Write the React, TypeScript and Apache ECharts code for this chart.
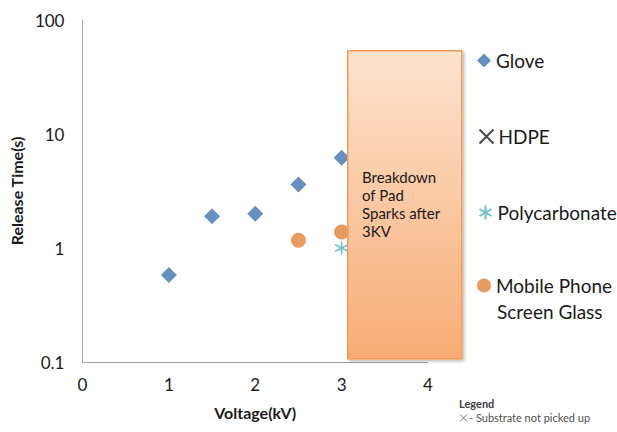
import React, { useEffect, useRef } from "react";
import * as echarts from "echarts";

// Release time (s) measured at each applied voltage (kV)
const gloveVoltage = [1, 1.5, 2, 2.5, 3];
const gloveTime = [0.58, 1.9, 2.0, 3.6, 6.2];
const hdpeVoltage: number[] = [];
const hdpeTime: number[] = [];
const polyVoltage = [3];
const polyTime = [1.0];
const phoneVoltage = [2.5, 3];
const phoneTime = [1.17, 1.38];

const xTicks = [0, 1, 2, 3, 4];
const yTicks = [0.1, 1, 10, 100];

const FONT = "Lato, 'Open Sans', sans-serif";

const pair = (xs: number[], ys: number[]) => xs.map((x, i) => [x, ys[i]]);

const CROSS = "path://M0,0L10,10M10,0L0,10";
const STAR = "path://M5,0L5,10M0.7,2.5L9.3,7.5M0.7,7.5L9.3,2.5";

export default function App() {
  const ref = useRef<HTMLDivElement>(null);

  useEffect(() => {
    if (!ref.current) return;
    const chart = echarts.init(ref.current, undefined, { renderer: "svg" });

    const legendBase = {
      orient: "vertical" as const,
      itemWidth: 14,
      itemHeight: 14,
      itemGap: 0,
      padding: 0,
      textStyle: { fontFamily: FONT, fontSize: 19, color: "#1a1a1a" },
      selectedMode: false,
    };

    chart.setOption({
      animation: false,
      backgroundColor: "#ffffff",
      textStyle: { fontFamily: FONT },
      grid: { left: 82, right: 189, top: 20, bottom: 70 },
      xAxis: {
        type: "value",
        min: xTicks[0],
        max: xTicks[xTicks.length - 1],
        interval: 1,
        name: "Voltage(kV)",
        nameLocation: "middle",
        nameGap: 42,
        nameTextStyle: { fontFamily: FONT, fontSize: 16, fontWeight: "bold", color: "#1a1a1a" },
        axisLine: { show: true, lineStyle: { color: "#a6a6a6", width: 1 } },
        axisTick: { show: false },
        splitLine: { show: false },
        axisLabel: { fontFamily: FONT, fontSize: 17, color: "#1a1a1a", margin: 14 },
      },
      yAxis: {
        type: "log",
        logBase: 10,
        min: yTicks[0],
        max: yTicks[yTicks.length - 1],
        name: "Release Time(s)",
        nameLocation: "middle",
        nameGap: 57,
        nameTextStyle: { fontFamily: FONT, fontSize: 16, fontWeight: "bold", color: "#1a1a1a" },
        axisLine: { show: true, lineStyle: { color: "#a6a6a6", width: 1 } },
        axisTick: { show: false },
        splitLine: { show: false },
        axisLabel: {
          fontFamily: FONT,
          fontSize: 17,
          color: "#1a1a1a",
          margin: 18,
          formatter: (v: number) => (v < 1 ? v.toFixed(1) : String(Math.round(v))),
        },
      },
      legend: [
        { ...legendBase, data: ["Glove"], left: 477, top: 51 },
        { ...legendBase, data: ["HDPE"], left: 477, top: 127 },
        { ...legendBase, data: ["Polycarbonate"], left: 477, top: 203 },
        { ...legendBase, data: ["Mobile Phone Screen Glass"], left: 477, top: 276, formatter: () => "Mobile Phone" },
      ],
      series: [
        {
          name: "Glove",
          type: "scatter",
          symbol: "diamond",
          symbolSize: 16,
          itemStyle: { color: "#4174b2" },
          data: pair(gloveVoltage, gloveTime),
        },
        {
          name: "HDPE",
          type: "scatter",
          symbol: CROSS,
          symbolSize: 12,
          itemStyle: { color: "none", borderColor: "#1a1a1a", borderWidth: 1.5 },
          data: pair(hdpeVoltage, hdpeTime),
        },
        {
          name: "Polycarbonate",
          type: "scatter",
          symbol: STAR,
          symbolSize: 13,
          itemStyle: { color: "none", borderColor: "#4bacc6", borderWidth: 1.5 },
          data: pair(polyVoltage, polyTime),
        },
        {
          name: "Mobile Phone Screen Glass",
          type: "scatter",
          symbol: "circle",
          symbolSize: 15,
          itemStyle: { color: "#e0833a" },
          data: pair(phoneVoltage, phoneTime),
        },
      ],
      graphic: [
        {
          type: "rect",
          left: 347,
          top: 50,
          shape: { width: 114, height: 308 },
          style: {
            fill: new echarts.graphic.LinearGradient(0, 0, 0, 1, [
              { offset: 0, color: "#fde3cf" },
              { offset: 1, color: "#f8ad75" },
            ]),
            stroke: "#f39a55",
            lineWidth: 1.5,
            shadowBlur: 3,
            shadowOffsetX: 2,
            shadowOffsetY: 2,
            shadowColor: "rgba(0,0,0,0.25)",
          },
          z: 10,
        },
        {
          type: "text",
          left: 362,
          top: 168,
          style: {
            text: "Breakdown\nof Pad\nSparks after\n3KV",
            fontFamily: FONT,
            fontSize: 15,
            lineHeight: 18,
            fill: "#1a1a1a",
          },
          z: 11,
        },
        {
          type: "text",
          left: 497,
          top: 302,
          style: { text: "Screen Glass", fontFamily: FONT, fontSize: 19, fill: "#1a1a1a" },
        },
        {
          type: "text",
          left: 459,
          top: 398,
          style: { text: "Legend", fontFamily: FONT, fontSize: 11, fontWeight: "bold", fill: "#404040" },
        },
        // thin cross glyph in the note below the plot
        {
          type: "line",
          shape: { x1: 460, y1: 414.5, x2: 467, y2: 421.5 },
          style: { stroke: "#707070", lineWidth: 1 },
        },
        {
          type: "line",
          shape: { x1: 467, y1: 414.5, x2: 460, y2: 421.5 },
          style: { stroke: "#707070", lineWidth: 1 },
        },
        {
          type: "text",
          left: 469,
          top: 412,
          style: {
            text: "- Substrate not picked up",
            fontFamily: FONT,
            fontSize: 11,
            fill: "#505050",
          },
        },
      ],
    });

    return () => chart.dispose();
  }, []);

  return <div ref={ref} style={{ width: 617, height: 432, position: "absolute", left: 0, top: 0 }} />;
}
